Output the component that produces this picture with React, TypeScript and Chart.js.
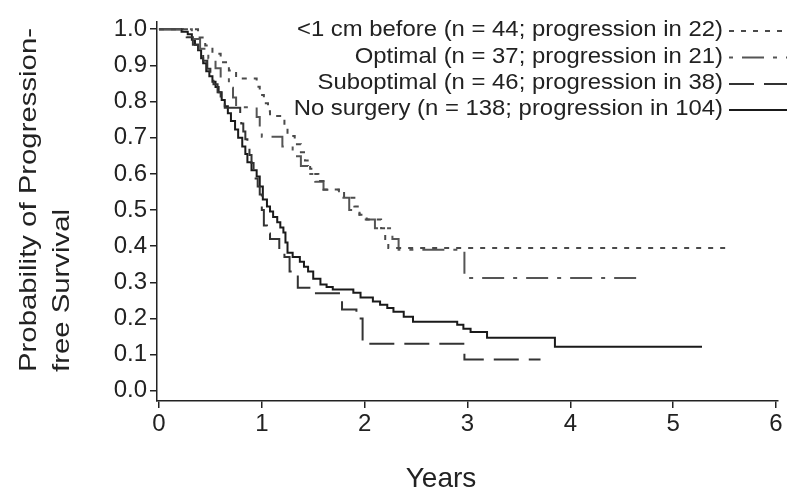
import React, { useEffect, useRef } from "react";
import { Chart, registerables } from "chart.js";

Chart.register(...registerables);

// Tick values
const xTickValues = [0, 1, 2, 3, 4, 5, 6];
const yTickValues = [0.0, 0.1, 0.2, 0.3, 0.4, 0.5, 0.6, 0.7, 0.8, 0.9, 1.0];

// <1 cm before
const lt1cmTime = [0, 0.38, 0.45, 0.52, 0.6, 0.68, 0.75, 0.95, 0.98, 1.02, 1.06, 1.08, 1.22, 1.25, 1.32, 1.38, 1.42, 1.47, 1.5, 1.55, 1.6, 1.8, 1.9, 1.95, 2.02, 2.16, 2.2, 2.23, 5.53];
const lt1cmSurv = [1, 0.977, 0.955, 0.932, 0.909, 0.886, 0.864, 0.841, 0.818, 0.795, 0.773, 0.76, 0.727, 0.705, 0.682, 0.66, 0.637, 0.614, 0.6, 0.58, 0.557, 0.534, 0.51, 0.487, 0.474, 0.45, 0.42, 0.395, 0.395];

// Optimal
const optimalTime = [0, 0.32, 0.4, 0.48, 0.55, 0.6, 0.68, 0.72, 0.75, 0.95, 0.98, 1.0, 1.2, 1.3, 1.38, 1.45, 1.52, 1.6, 1.75, 1.85, 1.95, 2.1, 2.27, 2.33, 2.97, 4.71];
const optimalSurv = [1, 0.973, 0.946, 0.919, 0.892, 0.865, 0.838, 0.811, 0.784, 0.757, 0.73, 0.703, 0.676, 0.649, 0.622, 0.6, 0.578, 0.556, 0.534, 0.5, 0.474, 0.45, 0.42, 0.39, 0.312, 0.312];

// Suboptimal
const suboptimalTime = [0, 0.27, 0.33, 0.38, 0.43, 0.47, 0.5, 0.53, 0.57, 0.6, 0.64, 0.79, 0.8, 0.82, 0.84, 0.86, 0.88, 0.9, 0.92, 0.94, 0.96, 0.98, 1.0, 1.02, 1.05, 1.08, 1.17, 1.22, 1.27, 1.35, 1.5, 1.78, 1.92, 1.98, 2.97, 3.71];
const suboptimalSurv = [1, 0.978, 0.957, 0.935, 0.913, 0.891, 0.87, 0.848, 0.826, 0.804, 0.783, 0.761, 0.739, 0.717, 0.696, 0.674, 0.652, 0.63, 0.609, 0.587, 0.565, 0.543, 0.5, 0.457, 0.435, 0.42, 0.39, 0.37, 0.33, 0.285, 0.27, 0.225, 0.2, 0.13, 0.087, 0.087];

// No surgery
const noSurgeryTime = [0, 0.22, 0.28, 0.32, 0.35, 0.38, 0.41, 0.43, 0.46, 0.49, 0.52, 0.55, 0.58, 0.61, 0.64, 0.67, 0.7, 0.74, 0.77, 0.81, 0.84, 0.86, 0.9, 0.95, 0.98, 1.01, 1.05, 1.08, 1.11, 1.15, 1.18, 1.21, 1.23, 1.25, 1.3, 1.37, 1.41, 1.45, 1.5, 1.57, 1.63, 1.69, 1.89, 1.96, 2.08, 2.15, 2.22, 2.28, 2.38, 2.47, 2.9, 2.96, 3.03, 3.19, 3.85, 5.28];
const noSurgerySurv = [1, 0.993, 0.986, 0.971, 0.957, 0.942, 0.92, 0.906, 0.884, 0.87, 0.855, 0.84, 0.826, 0.804, 0.787, 0.768, 0.746, 0.723, 0.7, 0.676, 0.655, 0.632, 0.61, 0.593, 0.565, 0.529, 0.51, 0.496, 0.481, 0.466, 0.452, 0.438, 0.41, 0.382, 0.37, 0.357, 0.343, 0.33, 0.31, 0.294, 0.287, 0.28, 0.271, 0.258, 0.247, 0.238, 0.229, 0.219, 0.205, 0.191, 0.183, 0.172, 0.163, 0.147, 0.122, 0.122];

const legendLabels = [
  "<1 cm before (n = 44; progression in 22)",
  "Optimal (n = 37; progression in 21)",
  "Suboptimal (n = 46; progression in 38)",
  "No surgery (n = 138; progression in 104)",
];
const yTitleLines = ["Probability of Progression-", "free Survival"];
const xTitle = "Years";

const seriesStyles = [
  { color: "#4a4a4a", dash: [5, 7] },
  { color: "#555555", dash: [22, 9, 4, 9] },
  { color: "#333333", dash: [25, 10] },
  { color: "#1a1a1a", dash: [] as number[] },
];

const FONT = "'Liberation Sans', Arial, sans-serif";

function pts(t: number[], s: number[]) {
  return t.map((x, i) => ({ x, y: s[i] }));
}

const overlayPlugin = {
  id: "overlay",
  afterDraw(chart: any) {
    const ctx = chart.ctx as CanvasRenderingContext2D;
    ctx.save();
    // Legend
    ctx.font = `22px ${FONT}`;
    ctx.fillStyle = "#222";
    ctx.textBaseline = "middle";
    ctx.textAlign = "right";
    const targetW = 426;
    const sx = targetW / ctx.measureText(legendLabels[0]).width;
    const rowsY = [30, 56.5, 83, 109];
    legendLabels.forEach((lab, i) => {
      ctx.save();
      ctx.translate(723, rowsY[i]);
      ctx.scale(sx, 1);
      ctx.fillText(lab, 0, 0);
      ctx.restore();
      const st = seriesStyles[i];
      ctx.save();
      ctx.strokeStyle = st.color;
      ctx.lineWidth = 2;
      ctx.setLineDash(st.dash);
      if (i === 1) ctx.lineDashOffset = 31;
      ctx.beginPath();
      ctx.moveTo(729, rowsY[i] + 1);
      ctx.lineTo(787, rowsY[i] + 1);
      ctx.stroke();
      ctx.restore();
    });
    // Y title
    ctx.font = `24px ${FONT}`;
    ctx.textAlign = "left";
    const tw = ctx.measureText(yTitleLines[0]).width;
    const sy = 344 / tw;
    const xs = [29, 62];
    yTitleLines.forEach((line, i) => {
      ctx.save();
      ctx.translate(xs[i], 372);
      ctx.rotate(-Math.PI / 2);
      ctx.scale(sy, 1);
      ctx.fillText(line, 0, 0);
      ctx.restore();
    });
    // X title
    ctx.font = `28px ${FONT}`;
    ctx.textAlign = "center";
    ctx.fillText(xTitle, 441, 479);
    ctx.restore();
  },
};

export default function App() {
  const ref = useRef<HTMLCanvasElement | null>(null);
  useEffect(() => {
    if (!ref.current) return;
    const mk = (label: string, t: number[], s: number[], i: number) => ({
      label,
      data: pts(t, s),
      borderColor: seriesStyles[i].color,
      borderDash: seriesStyles[i].dash,
      borderWidth: 2,
      pointRadius: 0,
      fill: false,
      stepped: "before" as const,
      tension: 0,
    });
    const chart = new Chart(ref.current, {
      type: "line",
      data: {
        datasets: [
          mk(legendLabels[0], lt1cmTime, lt1cmSurv, 0),
          mk(legendLabels[1], optimalTime, optimalSurv, 1),
          mk(legendLabels[2], suboptimalTime, suboptimalSurv, 2),
          mk(legendLabels[3], noSurgeryTime, noSurgerySurv, 3),
        ],
      },
      options: {
        responsive: false,
        animation: false,
        layout: { padding: { top: 22, right: 18, left: 0, bottom: 0 } },
        plugins: { legend: { display: false }, tooltip: { enabled: false } },
        scales: {
          x: {
            type: "linear",
            min: -0.019,
            max: 6.019,
            afterBuildTicks: (s: any) => {
              s.ticks = xTickValues.map((v) => ({ value: v }));
            },
            afterFit: (s: any) => {
              s.height = 93;
            },
            ticks: {
              font: { family: FONT, size: 24 },
              color: "#222",
              padding: 2,
              maxRotation: 0,
              callback: (v: any) => String(v),
            },
            grid: { drawOnChartArea: false, drawTicks: true, tickLength: 7, color: "#222", lineWidth: 1.5 },
            border: { display: true, color: "#222", width: 1.5 },
            title: { display: false },
          },
          y: {
            type: "linear",
            min: -0.028,
            max: 1.02,
            afterBuildTicks: (s: any) => {
              s.ticks = yTickValues.map((v) => ({ value: v }));
            },
            afterFit: (s: any) => {
              s.width = 157;
            },
            ticks: {
              font: { family: FONT, size: 24 },
              color: "#222",
              padding: 3,
              callback: (v: any) => Number(v).toFixed(1),
            },
            grid: { drawOnChartArea: false, drawTicks: true, tickLength: 7, color: "#222", lineWidth: 1.5 },
            border: { display: true, color: "#222", width: 1.5 },
            title: { display: false },
          },
        },
      },
      plugins: [overlayPlugin],
    });
    return () => chart.destroy();
  }, []);
  return (
    <div style={{ position: "absolute", left: 0, top: 0, width: 796, height: 494, background: "#fff" }}>
      <canvas ref={ref} width={796} height={494} />
    </div>
  );
}
